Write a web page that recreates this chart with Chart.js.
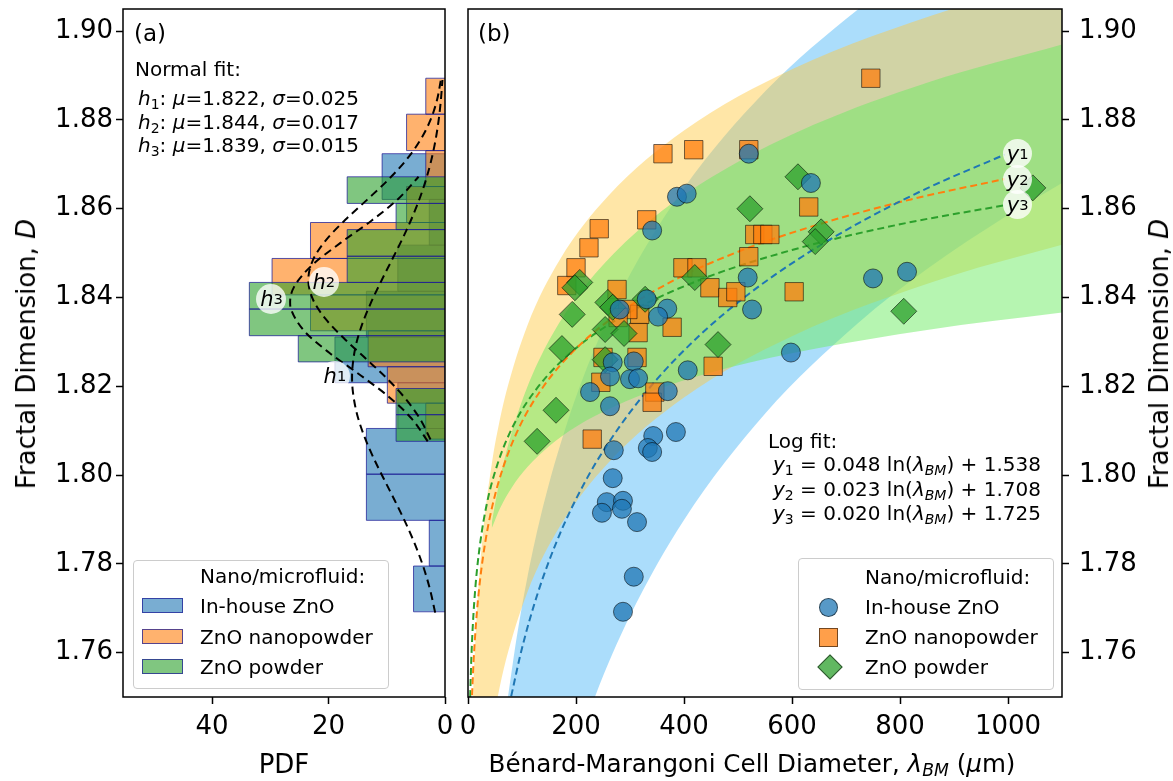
<!DOCTYPE html>
<html>
<head>
<meta charset="utf-8">
<script src="https://cdn.jsdelivr.net/npm/chart.js@4.4.0/dist/chart.umd.min.js"></script>
<style>
  body { margin: 0; background: #fff; font-family: 'DejaVu Sans', sans-serif; color: #000; }
  #wrap { position: relative; width: 1173px; height: 781px; overflow: hidden; }
  canvas { position: absolute; top: 0; }
  .txt { position: absolute; white-space: nowrap; font-size: 20px; line-height: 23px; }
  .title { position: absolute; white-space: nowrap; font-size: 26px; line-height: 30px; }
  sub { font-size: 70%; vertical-align: -0.25em; line-height: 0; font-style: normal; }
  i sub { font-style: italic; }
  .clab { position: absolute; border-radius: 50%; background: rgba(255,255,255,0.78);
          display: flex; align-items: center; justify-content: center; font-size: 21px; }
  .legend { position: absolute; border: 1px solid #ccc; border-radius: 4px; background: rgba(255,255,255,0.85); }
  .legend .row { position: absolute; font-size: 20px; line-height: 23px; white-space: nowrap; }
  .patch { position: absolute; width: 41px; height: 15px; box-sizing: border-box; border: 1px solid rgba(30,30,150,0.75); }
  .mk { position: absolute; box-sizing: border-box; border: 1px solid rgba(0,0,0,0.55); }
</style>
</head>
<body>
<div id="wrap">
  <canvas id="cA" width="455" height="781" style="left:0"></canvas>
  <canvas id="cB" width="718" height="781" style="left:455px"></canvas>
</div>
<script>
// ---- Panel (a): histograms (bin edges in D, densities in PDF) ----
const inHouseEdges = [1.7692, 1.7795, 1.7898, 1.8002, 1.8105, 1.8208, 1.8311, 1.8414, 1.8518, 1.8621, 1.8724];
const inHouseDens  = [5.4, 2.7, 13.5, 13.5, 8.1, 18.9, 13.5, 8.1, 2.7, 10.8];
const nanoEdges = [1.8081, 1.8162, 1.8244, 1.8325, 1.8406, 1.8488, 1.8569, 1.8650, 1.8731, 1.8813, 1.8894];
const nanoDens  = [3.3, 9.9, 13.2, 23.1, 29.7, 23.1, 6.6, 3.3, 6.6, 3.3];
const powderEdges = [1.8076, 1.8136, 1.8195, 1.8255, 1.8314, 1.8374, 1.8434, 1.8493, 1.8553, 1.8612, 1.8672];
const powderDens  = [8.4, 8.4, 0, 25.2, 33.6, 33.6, 16.8, 16.8, 8.4, 16.8];

// normal fits h1, h2, h3 (D, PDF)
const h1D   = [1.769, 1.774, 1.779, 1.784, 1.789, 1.794, 1.799, 1.804, 1.809, 1.814, 1.819, 1.822, 1.824, 1.829, 1.834, 1.839, 1.844, 1.849, 1.854, 1.859, 1.864, 1.869, 1.874, 1.879, 1.884, 1.889];
const h1Pdf = [1.69, 2.53, 3.64, 5.03, 6.68, 8.52, 10.45, 12.32, 13.94, 15.16, 15.84, 15.96, 15.91, 15.35, 14.22, 12.66, 10.84, 8.91, 7.03, 5.34, 3.89, 2.73, 1.84, 1.19, 0.74, 0.44];
const h2D   = [1.8080, 1.8125, 1.8170, 1.8215, 1.8260, 1.8305, 1.8350, 1.8395, 1.8440, 1.8485, 1.8530, 1.8575, 1.8620, 1.8665, 1.8710, 1.8755, 1.8800, 1.8845, 1.8890];
const h2Pdf = [2.49, 4.22, 6.65, 9.77, 13.40, 17.12, 20.40, 22.66, 23.47, 22.66, 20.40, 17.12, 13.40, 9.77, 6.65, 4.22, 2.49, 1.37, 0.71];
const h3D   = [1.8076, 1.8126, 1.8175, 1.8225, 1.8275, 1.8324, 1.8374, 1.8390, 1.8424, 1.8473, 1.8523, 1.8573, 1.8622, 1.8672];
const h3Pdf = [2.97, 5.65, 9.52, 14.52, 19.82, 24.14, 26.45, 26.60, 25.92, 22.82, 17.95, 12.64, 8.04, 4.54];

// ---- Panel (b): scatter data ----
const inHouseX = [520, 387, 405, 341, 331, 281, 369, 352, 518, 526, 635, 750, 813, 598, 268, 307, 263, 300, 315, 226, 370, 263, 407, 343, 385, 333, 341, 270, 268, 257, 287, 248, 285, 313, 307, 287];
const inHouseY = [1.8724, 1.8627, 1.8634, 1.8551, 1.8396, 1.8373, 1.8375, 1.8357, 1.8445, 1.8373, 1.8658, 1.8443, 1.8458, 1.8276, 1.8254, 1.8256, 1.8222, 1.8216, 1.8218, 1.8187, 1.8189, 1.8155, 1.8236, 1.8088, 1.8097, 1.8061, 1.8052, 1.8056, 1.7993, 1.7939, 1.7942, 1.7915, 1.7924, 1.7894, 1.7771, 1.7692];
const nanoX = [361, 418, 520, 331, 243, 224, 200, 183, 276, 398, 424, 531, 546, 520, 448, 481, 496, 318, 296, 315, 378, 278, 246, 250, 313, 346, 341, 230, 454, 746, 631, 559, 604];
const nanoY = [1.8724, 1.8733, 1.8733, 1.8575, 1.8555, 1.8512, 1.8467, 1.8427, 1.8418, 1.8467, 1.8467, 1.8542, 1.8542, 1.8492, 1.8422, 1.8400, 1.8413, 1.8362, 1.8373, 1.8321, 1.8333, 1.8355, 1.8209, 1.8265, 1.8265, 1.8187, 1.8164, 1.8081, 1.8245, 1.8894, 1.8604, 1.8542, 1.8413];
const powderX = [522, 207, 198, 193, 420, 328, 259, 268, 254, 289, 174, 463, 611, 654, 643, 807, 1046, 254, 163, 128];
const powderY = [1.8600, 1.8434, 1.8422, 1.8362, 1.8445, 1.8396, 1.8389, 1.8378, 1.8328, 1.8319, 1.8285, 1.8294, 1.8672, 1.8548, 1.8526, 1.8369, 1.8647, 1.8260, 1.8146, 1.8076];

// log fits y1, y2, y3
const fit1X = [80, 100, 130, 170, 220, 280, 350, 430, 520, 620, 730, 850, 994];
const fit1Y = [1.7502, 1.7610, 1.7737, 1.7867, 1.7992, 1.8108, 1.8216, 1.8316, 1.8408, 1.8493, 1.8572, 1.8646, 1.8722];
const fit2X = [7.5, 10, 15, 22, 32, 45, 65, 95, 140, 200, 280, 380, 500, 650, 820, 994];
const fit2Y = [1.7504, 1.7572, 1.7669, 1.7760, 1.7849, 1.7930, 1.8017, 1.8108, 1.8200, 1.8285, 1.8365, 1.8438, 1.8503, 1.8565, 1.8621, 1.8667];
const fit3X = [4, 6, 9, 14, 22, 35, 55, 85, 130, 200, 300, 430, 600, 800, 994];
const fit3Y = [1.7500, 1.7581, 1.7663, 1.7752, 1.7842, 1.7936, 1.8026, 1.8114, 1.8199, 1.8286, 1.8367, 1.8440, 1.8507, 1.8565, 1.8608];

// shaded bands (upper / lower)
const bandInHouseX  = [74, 90, 110, 140, 180, 235, 300, 400, 550, 722, 850, 1000, 1100];
const bandInHouseHi = [1.7500, 1.7633, 1.7770, 1.7934, 1.8104, 1.8286, 1.8452, 1.8647, 1.8864, 1.9049, 1.9160, 1.9271, 1.9335];
const bandInHouseLo = [1.6633, 1.6780, 1.6931, 1.7112, 1.7300, 1.7500, 1.7683, 1.7899, 1.8138, 1.8342, 1.8464, 1.8586, 1.8658];
const bandNanoX  = [9.4, 12, 18, 28, 45, 55, 70, 110, 170, 260, 400, 600, 896, 1100];
const bandNanoHi = [1.7501, 1.7584, 1.7721, 1.7872, 1.8033, 1.8101, 1.8183, 1.8337, 1.8485, 1.8629, 1.8776, 1.8914, 1.9050, 1.9120];
const bandNanoLo = [1.6899, 1.6982, 1.7120, 1.7270, 1.7432, 1.7500, 1.7582, 1.7736, 1.7884, 1.8028, 1.8175, 1.8313, 1.8449, 1.8519];
const bandPowderX  = [44, 60, 80, 110, 150, 200, 270, 360, 480, 640, 850, 1100];
const bandPowderHi = [1.7892, 1.7996, 1.8092, 1.8199, 1.8303, 1.8399, 1.8499, 1.8596, 1.8692, 1.8789, 1.8884, 1.8970];
const bandPowderLo = [1.7880, 1.7927, 1.7970, 1.8018, 1.8065, 1.8109, 1.8154, 1.8197, 1.8241, 1.8284, 1.8327, 1.8366];

// ticks
const dTicks = [1.76, 1.78, 1.80, 1.82, 1.84, 1.86, 1.88, 1.90];
const pdfTicks = [0, 20, 40];
const lambdaTicks = [0, 200, 400, 600, 800, 1000];

// label anchors (data coords)
const hLabelPdf = [18.9, 20.8, 29.8];
const hLabelD   = [1.8223, 1.8436, 1.8396];
const yLabelX   = [1018, 1018, 1018];
const yLabelD   = [1.8724, 1.8665, 1.8609];

const FONT = "'DejaVu Sans', sans-serif";
Chart.defaults.font.family = FONT;
Chart.defaults.color = '#000';

const TAB_BLUE = '31,119,180', TAB_ORANGE = '255,127,14', TAB_GREEN = '44,160,44';

// frame around the plot area (all four spines)
const framePlugin = {
  id: 'frame',
  afterDatasetsDraw(chart) {
    const { ctx, chartArea: a } = chart;
    ctx.save();
    ctx.strokeStyle = '#000';
    ctx.lineWidth = 1.5;
    ctx.strokeRect(a.left, a.top, a.right - a.left, a.bottom - a.top);
    ctx.restore();
  }
};

function pairs(xs, ys) { return xs.map((x, i) => ({ x: x, y: ys[i] })); }

// horizontal histogram outline: each bar goes back to PDF = 0
function histPath(edges, dens) {
  const pts = [{ x: 0, y: edges[0] }];
  dens.forEach((d, i) => {
    pts.push({ x: d, y: edges[i] });
    pts.push({ x: d, y: edges[i + 1] });
    pts.push({ x: 0, y: edges[i + 1] });
  });
  return pts;
}

function axis(ticksArr, fmt, pad, extra) {
  return Object.assign({
    type: 'linear',
    grid: { drawOnChartArea: false, drawTicks: true, tickLength: 7, tickWidth: 1.5, tickColor: '#000' },
    border: { display: false },
    ticks: { font: { size: 26, family: FONT }, color: '#000', padding: pad, callback: fmt },
    afterBuildTicks: s => { s.ticks = ticksArr.map(v => ({ value: v })); }
  }, extra);
}
const fmtD = v => v.toFixed(2);
const fmtInt = v => String(v);

// ---------- Panel (a) ----------
function histDs(edges, dens, rgb, order) {
  return {
    data: histPath(edges, dens),
    backgroundColor: 'rgba(' + rgb + ',0.6)',
    borderColor: 'rgba(30,30,150,0.75)',
    borderWidth: 1,
    fill: 'origin',
    pointRadius: 0,
    tension: 0,
    order: order
  };
}
function normalDs(ds, pdf) {
  return {
    data: pairs(pdf, ds),
    borderColor: '#000',
    borderWidth: 2,
    borderDash: [8, 5],
    fill: false,
    pointRadius: 0,
    cubicInterpolationMode: 'monotone',
    order: 0
  };
}

const chartA = new Chart(document.getElementById('cA'), {
  type: 'line',
  data: {
    datasets: [
      histDs(inHouseEdges, inHouseDens, TAB_BLUE, 3),
      histDs(nanoEdges, nanoDens, TAB_ORANGE, 2),
      histDs(powderEdges, powderDens, TAB_GREEN, 1),
      normalDs(h1D, h1Pdf),
      normalDs(h2D, h2Pdf),
      normalDs(h3D, h3Pdf)
    ]
  },
  options: {
    indexAxis: 'y',
    responsive: false,
    animation: false,
    layout: { autoPadding: false, padding: { left: 0, right: 10, top: 9, bottom: 0 } },
    plugins: { legend: { display: false }, tooltip: { enabled: false } },
    scales: {
      x: axis(pdfTicks, fmtInt, 8, {
        reverse: true, min: 0, max: 55.3, position: 'bottom',
        afterFit: s => { s.height = 84; s.paddingLeft = 0; s.paddingRight = 0; }
      }),
      y: axis(dTicks, fmtD, 3, {
        min: 1.75, max: 1.905, position: 'left',
        afterFit: s => { s.width = 123; s.paddingTop = 0; s.paddingBottom = 0; }
      })
    }
  },
  plugins: [framePlugin]
});

// ---------- Panel (b) ----------
function bandDs(xs, ys, color, order, fillNext) {
  return {
    data: pairs(xs, ys),
    backgroundColor: color,
    borderColor: 'rgba(0,0,0,0)',
    borderWidth: 0,
    fill: fillNext ? '+1' : false,
    pointRadius: 0,
    cubicInterpolationMode: 'monotone',
    order: order
  };
}
function fitDs(xs, ys, rgb) {
  return {
    data: pairs(xs, ys),
    borderColor: 'rgb(' + rgb + ')',
    borderWidth: 2,
    borderDash: [7, 4],
    fill: false,
    pointRadius: 0,
    cubicInterpolationMode: 'monotone',
    order: 5
  };
}
function markerDs(xs, ys, rgb, style, radius, order) {
  return {
    data: pairs(xs, ys),
    showLine: false,
    pointStyle: style,
    pointRadius: radius,
    backgroundColor: 'rgba(' + rgb + ',0.75)',
    borderColor: 'rgba(0,0,0,0.55)',
    borderWidth: 1,
    order: order
  };
}

const BLUE_BAND = 'rgba(135,206,250,0.7)';
const NANO_BAND = 'rgba(255,200,60,0.45)';
const POWDER_BAND = 'rgba(110,235,100,0.5)';

const chartB = new Chart(document.getElementById('cB'), {
  type: 'line',
  data: {
    datasets: [
      bandDs(bandInHouseX, bandInHouseHi, BLUE_BAND, 12, true),
      bandDs(bandInHouseX, bandInHouseLo, BLUE_BAND, 12, false),
      bandDs(bandNanoX, bandNanoHi, NANO_BAND, 11, true),
      bandDs(bandNanoX, bandNanoLo, NANO_BAND, 11, false),
      bandDs(bandPowderX, bandPowderHi, POWDER_BAND, 10, true),
      bandDs(bandPowderX, bandPowderLo, POWDER_BAND, 10, false),
      fitDs(fit1X, fit1Y, TAB_BLUE),
      fitDs(fit2X, fit2Y, TAB_ORANGE),
      fitDs(fit3X, fit3Y, TAB_GREEN),
      markerDs(nanoX, nanoY, TAB_ORANGE, 'rect', 13, 3),
      markerDs(powderX, powderY, TAB_GREEN, 'rectRot', 13, 2),
      markerDs(inHouseX, inHouseY, TAB_BLUE, 'circle', 9.5, 1)
    ]
  },
  options: {
    responsive: false,
    animation: false,
    layout: { autoPadding: false, padding: { left: 13, right: 0, top: 9, bottom: 0 } },
    plugins: { legend: { display: false }, tooltip: { enabled: false } },
    scales: {
      x: axis(lambdaTicks, fmtInt, 8, {
        min: 0, max: 1100, position: 'bottom',
        afterFit: s => { s.height = 84; s.paddingLeft = 0; s.paddingRight = 0; }
      }),
      y: axis(dTicks, fmtD, 10, {
        min: 1.75, max: 1.905, position: 'right',
        afterFit: s => { s.width = 111; s.paddingTop = 0; s.paddingBottom = 0; }
      })
    }
  },
  plugins: [framePlugin]
});

// ---------- HTML text overlays ----------
const wrap = document.getElementById('wrap');
function addHtml(cls, css, html) {
  const el = document.createElement('div');
  el.className = cls;
  el.style.cssText = css;
  el.innerHTML = html;
  wrap.appendChild(el);
  return el;
}
function circleLabel(chart, offX, x, y, r, html) {
  const px = offX + chart.scales.x.getPixelForValue(x);
  const py = chart.scales.y.getPixelForValue(y);
  addHtml('clab', 'left:' + (px - r) + 'px;top:' + (py - r) + 'px;width:' + (2 * r) + 'px;height:' + (2 * r) + 'px;', html);
}

// axis titles
addHtml('title', 'left:26px;top:354px;transform:translate(-50%,-50%) rotate(-90deg);', 'Fractal Dimension, <i>D</i>');
addHtml('title', 'left:1159px;top:354px;transform:translate(-50%,-50%) rotate(-90deg);', 'Fractal Dimension, <i>D</i>');
addHtml('title', 'left:284px;top:749px;transform:translateX(-50%);', 'PDF');
addHtml('title', 'left:752px;top:749px;font-size:24.6px;transform:translateX(-50%);', 'B\u00e9nard-Marangoni Cell Diameter, <i>\u03bb<sub>BM</sub></i> (<i>\u03bc</i>m)');

// panel labels
addHtml('txt', 'left:134px;top:22px;font-size:23px;', '(a)');
addHtml('txt', 'left:478px;top:22px;font-size:23px;', '(b)');

// normal fit text
addHtml('txt', 'left:135px;top:58px;', 'Normal fit:');
addHtml('txt', 'left:138px;top:87px;', '<i>h</i><sub>1</sub>: <i>\u03bc</i>=1.822, <i>\u03c3</i>=0.025');
addHtml('txt', 'left:138px;top:111px;', '<i>h</i><sub>2</sub>: <i>\u03bc</i>=1.844, <i>\u03c3</i>=0.017');
addHtml('txt', 'left:138px;top:134px;', '<i>h</i><sub>3</sub>: <i>\u03bc</i>=1.839, <i>\u03c3</i>=0.015');

// log fit text
addHtml('txt', 'left:768px;top:430px;', 'Log fit:');
addHtml('txt', 'left:773px;top:453px;', '<i>y</i><sub>1</sub> = 0.048 ln(<i>\u03bb<sub>BM</sub></i>) + 1.538');
addHtml('txt', 'left:773px;top:478px;', '<i>y</i><sub>2</sub> = 0.023 ln(<i>\u03bb<sub>BM</sub></i>) + 1.708');
addHtml('txt', 'left:773px;top:502px;', '<i>y</i><sub>3</sub> = 0.020 ln(<i>\u03bb<sub>BM</sub></i>) + 1.725');

// curve labels in white circles
hLabelPdf.forEach((p, i) => circleLabel(chartA, 0, p, hLabelD[i], 15, '<i>h</i><sub>' + (i + 1) + '</sub>'));
yLabelX.forEach((x, i) => circleLabel(chartB, 455, x, yLabelD[i], 14.5, '<i>y</i><sub>' + (i + 1) + '</sub>'));

// legends
const legendNames = ['In-house ZnO', 'ZnO nanopowder', 'ZnO powder'];
const legendRgb = [TAB_BLUE, TAB_ORANGE, TAB_GREEN];
const legA = addHtml('legend', 'left:133px;top:560px;width:254px;height:127px;', '');
const legB = addHtml('legend', 'left:798px;top:558px;width:254px;height:130px;', '');
function legendRow(box, top, left, html) {
  const el = document.createElement('div');
  el.className = 'row';
  el.style.cssText = 'left:' + left + 'px;top:' + top + 'px;';
  el.innerHTML = html;
  box.appendChild(el);
}
legendRow(legA, 4, 66, 'Nano/microfluid:');
legendRow(legB, 7, 66, 'Nano/microfluid:');
legendNames.forEach((name, i) => {
  legendRow(legA, 34 + 30.5 * i, 66, name);
  legendRow(legB, 37 + 30 * i, 66, name);
  const p = document.createElement('div');
  p.className = 'patch';
  p.style.cssText = 'left:8px;top:' + (37 + 30.5 * i) + 'px;background:rgba(' + legendRgb[i] + ',0.6);';
  legA.appendChild(p);
  const m = document.createElement('div');
  m.className = 'mk';
  const cy = 48 + 30 * i;
  if (i === 0) m.style.cssText = 'left:20px;top:' + (cy - 9.5) + 'px;width:19px;height:19px;border-radius:50%;';
  if (i === 1) m.style.cssText = 'left:20px;top:' + (cy - 9.5) + 'px;width:19px;height:19px;';
  if (i === 2) m.style.cssText = 'left:22px;top:' + (cy - 9) + 'px;width:18px;height:18px;transform:rotate(45deg);';
  m.style.background = 'rgba(' + legendRgb[i] + ',0.75)';
  legB.appendChild(m);
});
</script>
</body>
</html>
